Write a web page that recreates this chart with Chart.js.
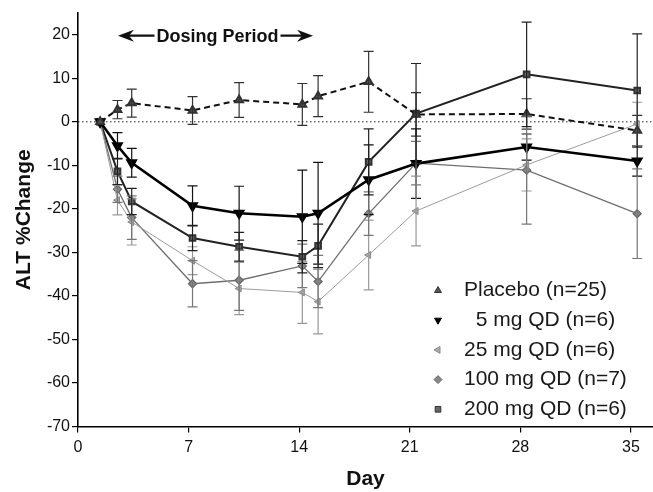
<!DOCTYPE html>
<html><head><meta charset="utf-8">
<script src="https://cdn.jsdelivr.net/npm/chart.js@4.4.1/dist/chart.umd.min.js"></script>
<style>html,body{margin:0;padding:0;background:#fff;overflow:hidden;} canvas{display:block;}</style>
</head><body><canvas id="c" width="653" height="492"></canvas>
<script>
// ---- data ----
const days = [1.4, 2.5, 3.4, 7.25, 10.2, 14.2, 15.2, 18.4, 21.4, 28.4, 35.4];
const placebo    = [0, 2.8, 4.3, 2.6, 5.0, 4.0, 5.9, 9.2, 1.7, 1.8, -2.0];
const placeboErr = [0, 2.1, 3.2, 3.2, 4.0, 4.8, 4.7, 7.0, 5.0, 3.5, 3.5];
const mg5        = [0, -5.5, -9.4, -19.3, -21.0, -21.8, -21.0, -13.3, -9.6, -5.8, -9.0];
const mg5Err     = [0, 3.0, 3.3, 4.6, 6.2, 10.7, 11.7, 8.0, 8.0, 3.0, 3.5];
const mg25       = [0, -18.0, -23.0, -31.9, -38.3, -39.2, -41.3, -30.6, -20.5, -9.9, -0.5];
const mg25Err    = [0, 3.4, 5.3, 3.2, 6.0, 7.1, 7.4, 8.0, 8.0, 6.0, 5.0];
const mg100      = [0, -15.5, -22.0, -37.2, -36.4, -33.1, -36.7, -21.1, -9.5, -11.1, -21.1];
const mg100Err   = [0, 3.0, 5.0, 5.3, 6.9, 5.0, 6.0, 5.0, 5.0, 12.4, 10.3];
const mg200      = [0, -11.4, -18.3, -26.7, -28.7, -31.0, -28.5, -9.2, 1.9, 10.9, 7.2];
const mg200Err   = [0, 3.0, 3.0, 2.9, 3.3, 3.7, 5.0, 7.6, 11.5, 12.0, 13.0];
const seriesLabels = ['Placebo (n=25)', '  5 mg QD (n=6)', '25 mg QD (n=6)', '100 mg QD (n=7)', '200 mg QD (n=6)'];
const xTickValues = [0, 7, 14, 21, 28, 35];
const yTickValues = [-70, -60, -50, -40, -30, -20, -10, 0, 10, 20];
const dosingLabel = 'Dosing Period';
const xTitle = 'Day';
const yTitle = 'ALT %Change';

const pts = vals => vals.map((v, i) => ({x: days[i], y: v}));
const FONT = "'Liberation Sans', Arial, sans-serif";

const datasets = [
  {label: seriesLabels[0], data: pts(placebo), err: placeboErr, borderColor: '#111', borderWidth: 2, borderDash: [6, 4],
   pointStyle: 'triangle', rotation: 0, pointRadius: 4.5, pointBackgroundColor: '#555', pointBorderColor: '#333', errColor: '#333'},
  {label: seriesLabels[1], data: pts(mg5), err: mg5Err, borderColor: '#000', borderWidth: 2.6,
   pointStyle: 'triangle', rotation: 180, pointRadius: 4.5, pointBackgroundColor: '#000', pointBorderColor: '#000', errColor: '#111'},
  {label: seriesLabels[2], data: pts(mg25), err: mg25Err, borderColor: '#9c9c9c', borderWidth: 1,
   pointStyle: 'triangle', rotation: 270, pointRadius: 4, pointBackgroundColor: '#aaa', pointBorderColor: '#888', errColor: '#999'},
  {label: seriesLabels[3], data: pts(mg100), err: mg100Err, borderColor: '#6e6e6e', borderWidth: 1.3,
   pointStyle: 'rectRot', rotation: 0, pointRadius: 4, pointBackgroundColor: '#888', pointBorderColor: '#666', errColor: '#777'},
  {label: seriesLabels[4], data: pts(mg200), err: mg200Err, borderColor: '#222', borderWidth: 2,
   pointStyle: 'rect', rotation: 0, pointRadius: 4, pointBackgroundColor: '#666', pointBorderColor: '#333', errColor: '#222'}
];

const zeroLine = {
  id: 'zeroLine',
  beforeDatasetsDraw(chart) {
    const {ctx, chartArea, scales} = chart;
    const y = scales.y.getPixelForValue(0);
    ctx.save();
    ctx.strokeStyle = '#222'; ctx.lineWidth = 1; ctx.setLineDash([1.5, 2.5]);
    ctx.beginPath(); ctx.moveTo(chartArea.left, y); ctx.lineTo(chartArea.right, y); ctx.stroke();
    ctx.restore();
  }
};

const errorBars = {
  id: 'errorBars',
  afterDatasetsDraw(chart) {
    const {ctx, scales} = chart;
    ctx.save();
    chart.data.datasets.forEach(ds => {
      ctx.strokeStyle = ds.errColor; ctx.lineWidth = 1.2; ctx.setLineDash([]);
      ds.data.forEach((p, i) => {
        const e = ds.err[i];
        if (!e) return;
        const x = scales.x.getPixelForValue(p.x);
        const y1 = scales.y.getPixelForValue(p.y + e);
        const y2 = scales.y.getPixelForValue(p.y - e);
        ctx.beginPath();
        ctx.moveTo(x, y1); ctx.lineTo(x, y2);
        ctx.moveTo(x - 5, y1); ctx.lineTo(x + 5, y1);
        ctx.moveTo(x - 5, y2); ctx.lineTo(x + 5, y2);
        ctx.stroke();
      });
    });
    ctx.restore();
  }
};

function arrowHead(ctx, tipX, y, dir) {
  const L = 16, H = 6;
  ctx.beginPath();
  ctx.moveTo(tipX, y);
  ctx.lineTo(tipX - dir * L, y - H);
  ctx.lineTo(tipX - dir * (L - 5), y);
  ctx.lineTo(tipX - dir * L, y + H);
  ctx.closePath();
  ctx.fill();
}

const dosing = {
  id: 'dosing',
  afterDraw(chart) {
    const {ctx, scales} = chart;
    const y = scales.y.getPixelForValue(19.8);
    const cx = scales.x.getPixelForValue(8.83);
    const left = scales.x.getPixelForValue(2.53);
    const right = scales.x.getPixelForValue(14.88);
    ctx.save();
    ctx.font = 'bold 18px ' + FONT;
    ctx.fillStyle = '#111'; ctx.strokeStyle = '#111';
    ctx.textAlign = 'center'; ctx.textBaseline = 'middle';
    ctx.fillText(dosingLabel, cx, y + 1);
    const w = ctx.measureText(dosingLabel).width;
    ctx.lineWidth = 2.2;
    ctx.beginPath();
    ctx.moveTo(left + 6, y); ctx.lineTo(cx - w / 2 - 2, y);
    ctx.moveTo(cx + w / 2 + 2, y); ctx.lineTo(right - 6, y);
    ctx.stroke();
    arrowHead(ctx, left, y, -1);
    arrowHead(ctx, right, y, 1);
    ctx.restore();
  }
};

const legendBox = {
  id: 'legendBox',
  afterDraw(chart) {
    const {ctx, chartArea} = chart;
    const mx = chartArea.right - 215, tx = chartArea.right - 189;
    const y0 = chartArea.bottom - 136, dy = 29.7;
    ctx.save();
    ctx.font = '21px ' + FONT;
    ctx.textAlign = 'left'; ctx.textBaseline = 'middle';
    chart.data.datasets.forEach((ds, i) => {
      const y = y0 + i * dy;
      ctx.fillStyle = ds.pointBackgroundColor; ctx.strokeStyle = ds.pointBorderColor; ctx.lineWidth = 1;
      Chart.helpers.drawPoint(ctx, {pointStyle: ds.pointStyle, rotation: ds.rotation, radius: 4, borderWidth: 1}, mx, y);
      ctx.fillStyle = '#1a1a1a';
      ctx.fillText(ds.label, tx, y);
    });
    ctx.restore();
  }
};

const axisCommon = {
  grid: {display: true, drawOnChartArea: false, drawTicks: true, tickLength: 6, color: '#000', lineWidth: 1.2},
  border: {display: true, color: '#000', width: 1.6},
  ticks: {color: '#111', font: {family: FONT, size: 16}, padding: 2}
};

new Chart(document.getElementById('c'), {
  type: 'line',
  data: {datasets},
  options: {
    responsive: false, animation: false, devicePixelRatio: 1,
    layout: {autoPadding: false, padding: {top: 13, right: 0, left: 0, bottom: 0}},
    elements: {line: {tension: 0, fill: false}, point: {borderWidth: 1}},
    plugins: {legend: {display: false}, tooltip: {enabled: false}},
    scales: {
      x: {
        type: 'linear', min: 0, max: 36.4,
        grid: axisCommon.grid, border: axisCommon.border,
        ticks: {...axisCommon.ticks, padding: 5},
        afterBuildTicks: s => { s.ticks = xTickValues.map(v => ({value: v})); },
        afterFit: s => { s.height = 65.5; s.paddingRight = 0; s.paddingLeft = 0; },
        title: {display: true, text: xTitle, color: '#111', font: {family: FONT, size: 21, weight: 'bold'}, padding: {top: 0, bottom: 0}}
      },
      y: {
        type: 'linear', min: -70, max: 25,
        grid: axisCommon.grid, border: axisCommon.border,
        ticks: axisCommon.ticks,
        afterBuildTicks: s => { s.ticks = yTickValues.map(v => ({value: v})); },
        afterFit: s => { s.width = 78; s.paddingTop = 0; s.paddingBottom = 0; },
        title: {display: true, text: yTitle, color: '#111', font: {family: FONT, size: 21, weight: 'bold'}, padding: {top: 12, bottom: 0}}
      }
    }
  },
  plugins: [zeroLine, errorBars, dosing, legendBox]
});
</script>
</body></html>
